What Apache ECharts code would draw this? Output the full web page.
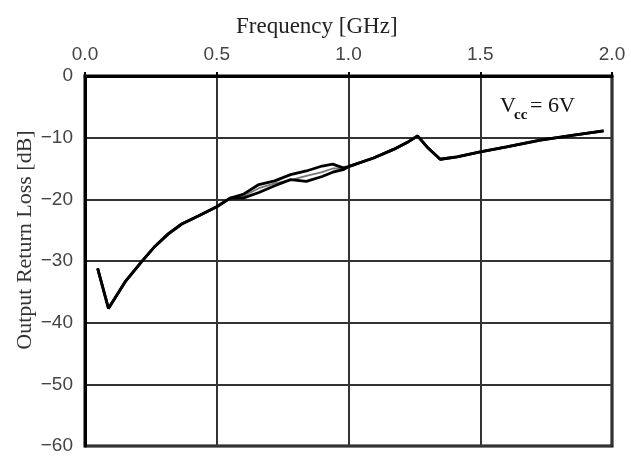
<!DOCTYPE html>
<html>
<head>
<meta charset="utf-8">
<script src="https://cdn.jsdelivr.net/npm/echarts@6/dist/echarts.min.js"></script>
<style>
  html, body { margin: 0; padding: 0; background: #fff; }
  #chart { width: 631px; height: 456px; }
</style>
</head>
<body>
<div id="chart"></div>
<script>
// shared part of the traces (low band and high band)
var freqLow = [0.048, 0.089, 0.152, 0.215, 0.266, 0.316, 0.367, 0.43, 0.5, 0.551];
var lossLow = [-31.2, -37.7, -33.4, -30.1, -27.6, -25.6, -24.0, -22.7, -21.2, -19.8];

// the region where the measured traces split into loops
var freqLoop = [0.6, 0.66, 0.72, 0.78, 0.84, 0.9, 0.94, 0.98];
var lossUpper = [-19.2, -17.6, -17.0, -16.0, -15.4, -14.6, -14.3, -14.9];
var lossLower = [-19.8, -18.9, -17.8, -16.8, -17.1, -16.3, -15.6, -15.2];
var lossMid = [-19.5, -18.2, -17.4, -16.9, -16.2, -15.6, -15.0, -15.0];

var freqHigh = [1.0, 1.095, 1.171, 1.222, 1.262, 1.298, 1.348, 1.412, 1.5, 1.6, 1.728, 1.855, 1.968];
var lossHigh = [-14.7, -13.3, -11.9, -10.8, -9.7, -11.5, -13.5, -13.1, -12.3, -11.5, -10.4, -9.6, -8.9];

var xTicks = ['0.0', '0.5', '1.0', '1.5', '2.0'];

function trace(loopVals) {
    var pts = [];
    freqLow.forEach(function (f, i) { pts.push([f, lossLow[i]]); });
    freqLoop.forEach(function (f, i) { pts.push([f, loopVals[i]]); });
    freqHigh.forEach(function (f, i) { pts.push([f, lossHigh[i]]); });
    return pts;
}

var chart = echarts.init(document.getElementById('chart'));
var serif = '"Liberation Serif", "Times New Roman", serif';
var sans = '"Liberation Sans", Arial, sans-serif';

var option = {
    animation: false,
    backgroundColor: '#fff',
    grid: {
        left: 85, right: 19, top: 76, bottom: 10,
        show: true, borderColor: '#000', borderWidth: 3
    },
    title: {
        text: 'Frequency [GHz]',
        left: 231, top: 10,
        textStyle: { fontFamily: serif, fontSize: 23, fontWeight: 'normal', color: '#222' }
    },
    xAxis: {
        type: 'value', position: 'top',
        min: 0, max: 2, interval: 0.5,
        axisLine: { show: true, lineStyle: { color: '#000', width: 3 } },
        axisTick: { show: true, length: 4, lineStyle: { color: '#000', width: 2 } },
        axisLabel: {
            margin: 12, fontFamily: sans, fontSize: 19, color: '#444',
            formatter: function (v) { return xTicks[Math.round(v / 0.5)]; }
        },
        splitLine: { show: true, lineStyle: { color: '#333', width: 2 } }
    },
    yAxis: {
        type: 'value',
        min: -60, max: 0, interval: 10,
        axisLine: { show: true, lineStyle: { color: '#000', width: 3 } },
        axisTick: { show: false },
        axisLabel: {
            margin: 12, fontFamily: sans, fontSize: 19, color: '#444',
            formatter: function (v) { return String(v).replace('-', '\u2212'); }
        },
        splitLine: { show: true, lineStyle: { color: '#333', width: 2 } }
    },
    series: [
        {
            type: 'line', data: trace(lossMid), showSymbol: false,
            lineStyle: { color: '#777', width: 1.8 }
        },
        {
            type: 'line', data: trace(lossUpper), showSymbol: false,
            lineStyle: { color: '#000', width: 2.8 }
        },
        {
            type: 'line', data: trace(lossLower), showSymbol: false,
            lineStyle: { color: '#000', width: 2.8 }
        }
    ],
    graphic: [
        {
            type: 'text', x: 25, y: 240, rotation: Math.PI / 2,
            style: {
                text: 'Output Return Loss [dB]', x: 0, y: 0,
                align: 'center', verticalAlign: 'middle',
                font: '22px ' + serif, fill: '#333'
            }
        },
        {
            type: 'text', x: 500, y: 106,
            style: { text: 'V', verticalAlign: 'middle', font: '22px ' + serif, fill: '#111' }
        },
        {
            type: 'text', x: 514, y: 115,
            style: { text: 'cc', verticalAlign: 'middle', font: 'bold 15px ' + serif, fill: '#111' }
        },
        {
            type: 'text', x: 530, y: 106,
            style: { text: '= 6V', verticalAlign: 'middle', font: '22px ' + serif, fill: '#111' }
        }
    ]
};

chart.setOption(option);
</script>
</body>
</html>
